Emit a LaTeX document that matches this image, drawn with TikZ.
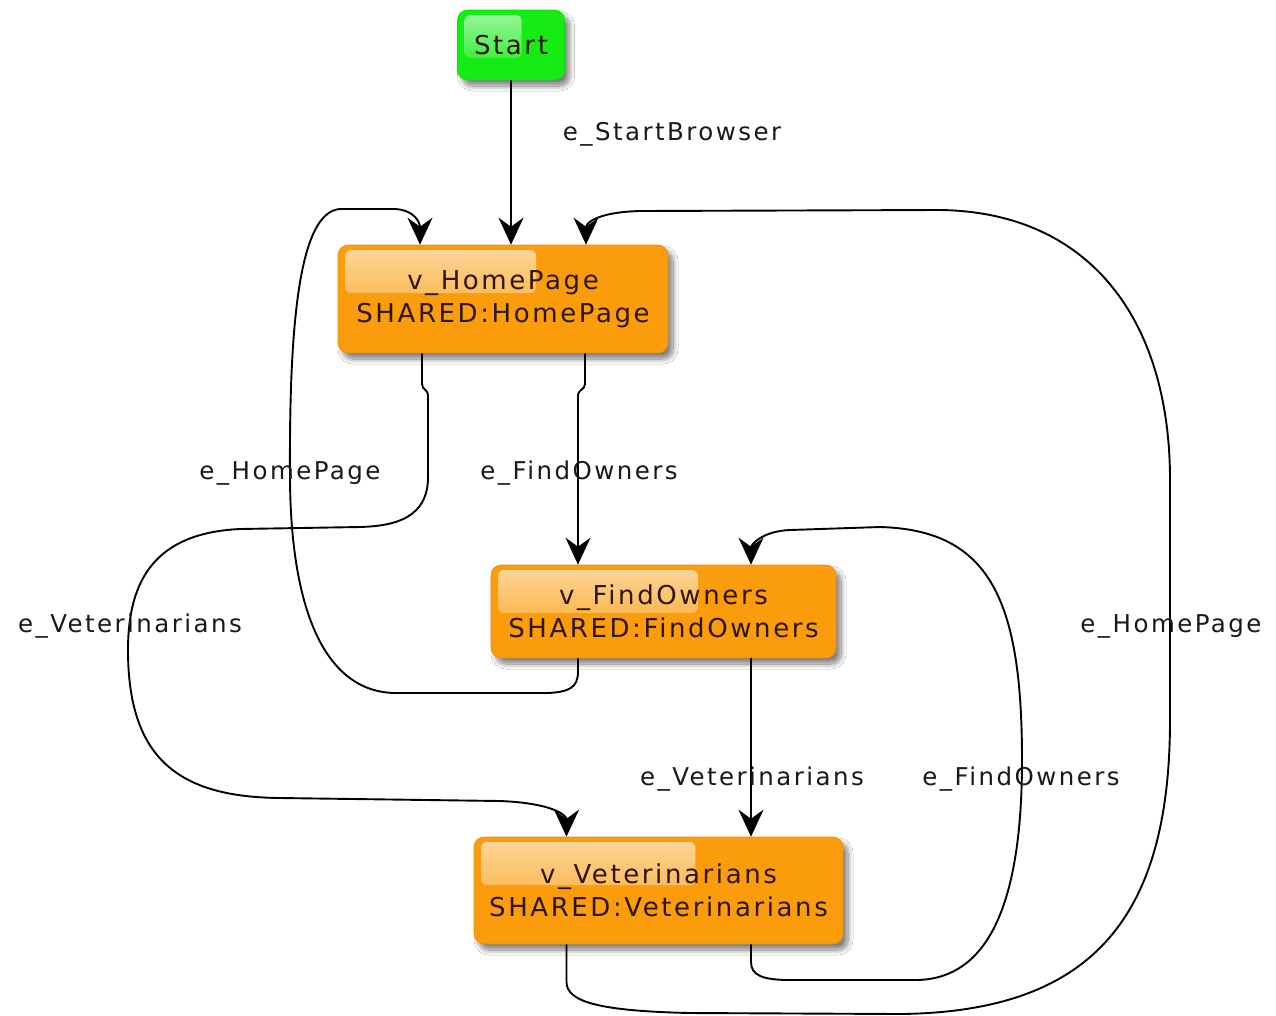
\documentclass[tikz,border=0pt]{standalone}
\usepackage{fontspec}
\setmainfont{DejaVu Sans}[LetterSpace=10]
\usetikzlibrary{arrows.meta,shadows.blur,calc}
\definecolor{nodeor}{RGB}{250,156,12}
\definecolor{startgr}{RGB}{20,236,20}
\definecolor{ntext}{RGB}{45,22,0}
\definecolor{lbltext}{RGB}{25,25,25}
\tikzset{
  state/.style={rounded corners=10pt, fill=#1, draw=#1!92!black, line width=0.6pt,
    align=center, inner sep=0pt, text=ntext,
    font=\fontsize{26}{33}\selectfont,
    blur shadow={shadow xshift=5pt, shadow yshift=-6pt, shadow blur radius=5pt, shadow blur steps=12, shadow opacity=50},
    path picture={\shade[top color=#1!40!white, bottom color=#1, rounded corners=6pt]
      ($(path picture bounding box.north west)+(7pt,-5pt)$) rectangle
      ($(path picture bounding box.north west)!0.6!(path picture bounding box.north east)+(0,-48pt)$);}},
  edge/.style={draw, line width=1.9pt, -{Stealth[length=27pt,width=25pt,inset=9pt]}},
  lbl/.style={font=\fontsize{24.5}{28}\selectfont, text=lbltext, inner sep=0pt, anchor=base}
}
\begin{document}
\begin{tikzpicture}[x=1pt,y=-1pt]
\useasboundingbox (0,0) rectangle (1276,1015);
\fill[white] (0,0) rectangle (1276,1015);

% nodes
\node[state=startgr, minimum width=107pt, minimum height=70pt] (start) at (511,45) {Start};
\node[state=nodeor, minimum width=330pt, minimum height=108pt] (hp) at (503,299) {v\_HomePage\\SHARED:HomePage};
\node[state=nodeor, minimum width=345pt, minimum height=93pt] (fo) at (663.5,611.5) {v\_FindOwners\\SHARED:FindOwners};
\node[state=nodeor, minimum width=369pt, minimum height=107pt] (vt) at (658.5,890.5) {v\_Veterinarians\\SHARED:Veterinarians};

% edges
\draw[edge] (start.south) -- (start.south |- hp.north);

\draw[edge] ([xshift=82pt]hp.south) -- (585,384) .. controls (585,390) and (578,389) .. (578,396)
  -- ([xshift=-85.5pt]fo.north);

\draw[edge] ([xshift=-81pt]hp.south) -- (422,384) .. controls (422,390) and (428,389) .. (428,396)
  -- (428,477) .. controls (428,518) and (395,526) .. (360,527)
  -- (240,529) .. controls (155,533) and (128,580) .. (128,650)
  .. controls (128,760) and (180,797) .. (280,798)
  -- (500,801) .. controls (552,803) and (566.5,815) .. ([xshift=-92pt]vt.north);

\draw[edge] ([xshift=-85.5pt]fo.south) -- (578,672) .. controls (578,688) and (568,692) .. (548,693)
  -- (395,693) .. controls (325,692) and (291,610) .. (290,480)
  .. controls (289,330) and (298,212) .. (340,209)
  -- (395,209) .. controls (414,210) and (420,222) .. ([xshift=-83pt]hp.north);

\draw[edge] ([xshift=87.5pt]fo.south) -- ([xshift=92.5pt]vt.north);

\draw[edge] ([xshift=92.5pt]vt.south) -- (751,962) .. controls (751,975) and (762,980) .. (790,980)
  -- (915,980) .. controls (990,980) and (1022,900) .. (1022,760)
  .. controls (1022,600) and (990,530) .. (880,527)
  -- (790,530) .. controls (762,531) and (751,545) .. ([xshift=87.5pt]fo.north);

\draw[edge] ([xshift=-92pt]vt.south) -- (566.5,982) .. controls (566.5,1002) and (600,1011) .. (690,1013)
  -- (900,1014) .. controls (1090,1012) and (1170,920) .. (1170,720)
  -- (1170,480) .. controls (1170,320) and (1090,212) .. (940,210)
  -- (640,211) .. controls (600,212) and (586,222) .. ([xshift=83pt]hp.north);

% labels
\node[lbl] (l1) at (672,140) {e\_StartBrowser};
\node[lbl] (l2) at (579,479) {e\_FindOwners};
\node[lbl] (l3) at (290,479) {e\_HomePage};
\node[lbl] (l4) at (130,632) {e\_Veterinarians};
\node[lbl] (l5) at (1171,632) {e\_HomePage};
\node[lbl] (l6) at (752,785) {e\_Veterinarians};
\node[lbl] (l7) at (1021,785) {e\_FindOwners};
\end{tikzpicture}
\end{document}
